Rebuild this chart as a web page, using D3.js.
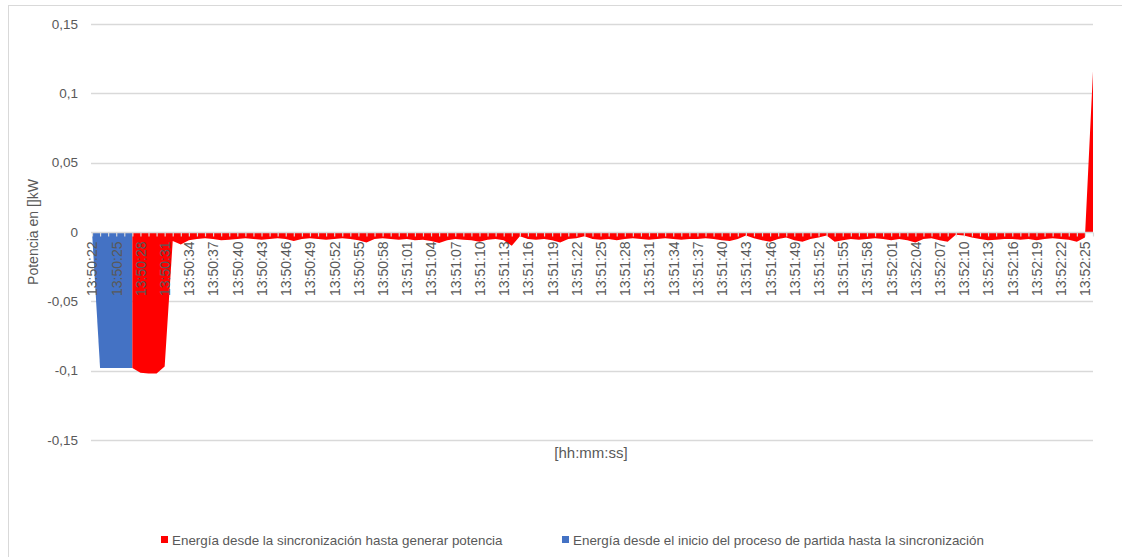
<!DOCTYPE html>
<html>
<head>
<meta charset="utf-8">
<script src="https://cdn.jsdelivr.net/npm/d3@7"></script>
<style>
  html, body { margin: 0; padding: 0; background: #fff; }
  svg { display: block; font-family: "Liberation Sans", Arial, sans-serif; }
</style>
</head>
<body>
<svg id="chart" width="1122" height="557"></svg>
<script>
// ---- data ----
const startTime = "13:50:22";
const nPoints = 125; // 13:50:22 ... 13:52:26, one per second
const categories = (function () {
  const out = [];
  const [h, m, s] = startTime.split(":").map(Number);
  const base = h * 3600 + m * 60 + s;
  for (let i = 0; i < nPoints; i++) {
    const t = base + i;
    const hh = String(Math.floor(t / 3600)).padStart(2, "0");
    const mm = String(Math.floor((t % 3600) / 60)).padStart(2, "0");
    const ss = String(t % 60).padStart(2, "0");
    out.push(hh + ":" + mm + ":" + ss);
  }
  return out;
})();

// Blue series: from start of process until synchronization (13:50:22 - 13:50:27)
const blueValues = [0, -0.098, -0.098, -0.098, -0.098, -0.098];

// Red series: from synchronization until generating power (13:50:27 - 13:52:26)
const redValues = [
  -0.098, -0.1015, -0.102, -0.102, -0.097,
  -0.0065, -0.009, -0.006, -0.005, -0.0045, -0.005, -0.006, -0.0055, -0.005, -0.0045,
  -0.005, -0.0055, -0.005, -0.0045, -0.005, -0.0065, -0.005, -0.0045, -0.005, -0.0055,
  -0.005, -0.0045, -0.005, -0.006, -0.0075, -0.005, -0.0045, -0.005, -0.0055, -0.005,
  -0.006, -0.0055, -0.0065, -0.008, -0.006, -0.005, -0.0055, -0.006, -0.007, -0.0055,
  -0.005, -0.006, -0.01, -0.003, -0.005, -0.0055, -0.005, -0.006, -0.0075, -0.005,
  -0.0045, -0.003, -0.005, -0.0055, -0.005, -0.006, -0.005, -0.0045, -0.005, -0.0055,
  -0.005, -0.0045, -0.005, -0.0055, -0.005, -0.005, -0.0045, -0.005, -0.006, -0.0065,
  -0.005, -0.0025, -0.0045, -0.006, -0.007, -0.005, -0.004, -0.006, -0.007, -0.005,
  -0.004, -0.0025, -0.007, -0.006, -0.005, -0.0055, -0.005, -0.0045, -0.005, -0.006,
  -0.005, -0.006, -0.0075, -0.005, -0.0045, -0.006, -0.007, -0.002, -0.0025, -0.004,
  -0.005, -0.006, -0.0055, -0.005, -0.005, -0.0055, -0.005, -0.006, -0.005, -0.0045,
  -0.005, -0.0055, -0.007, -0.004,
  0.116
];
const blueStart = 0;   // index of 13:50:22
const redStart = 5;    // index of 13:50:27

const yTicks = [-0.15, -0.1, -0.05, 0, 0.05, 0.1, 0.15];
const xLabelEvery = 3;

const seriesNames = [
  "Energía desde la sincronización hasta generar potencia",
  "Energía desde el inicio del proceso de partida hasta la sincronización"
];

// ---- layout ----
const svg = d3.select("#chart");
const plot = { left: 91, right: 1093, top: 24, bottom: 440 };
const gridColor = "#d9d9d9";
const textColor = "#595959";
const red = "#ff0000";
const blue = "#4472c4";

// chart border (only top/left visible in the reference)
svg.append("rect")
  .attr("x", 8.5).attr("y", 5.5)
  .attr("width", 1130).attr("height", 570)
  .attr("fill", "none").attr("stroke", "#d9d9d9").attr("stroke-width", 1);

const x = d3.scalePoint().domain(categories).range([plot.left + 1, plot.right]);
const y = d3.scaleLinear().domain([-0.15, 0.15]).range([plot.bottom, plot.top]);

// value axis labels (Spanish decimal comma, ASCII hyphen minus)
const fmtY = d => String(+d.toFixed(2)).replace(".", ",");
const yAxis = d3.axisLeft(y).tickValues(yTicks).tickSize(0).tickPadding(13).tickFormat(fmtY);
const gy = svg.append("g").attr("transform", `translate(${plot.left},0)`).call(yAxis);
gy.select(".domain").remove();
gy.selectAll("text").attr("fill", textColor).style("font-size", "13.5px");

// gridlines
svg.append("g").selectAll("line").data(yTicks.filter(d => d !== 0)).join("line")
  .attr("x1", plot.left).attr("x2", plot.right)
  .attr("y1", d => Math.round(y(d)) + 0.5).attr("y2", d => Math.round(y(d)) + 0.5)
  .attr("stroke", gridColor).attr("stroke-width", 1.3);

// areas
const blueData = blueValues.map((v, i) => ({ c: categories[blueStart + i], v }));
const redData = redValues.map((v, i) => ({ c: categories[redStart + i], v }));

const area = d3.area()
  .x(d => x(d.c))
  .y0(y(0))
  .y1(d => y(d.v));

svg.append("path").datum(blueData).attr("d", area).attr("fill", blue);
svg.append("path").datum(redData).attr("d", area).attr("fill", red);

// category axis at zero
const xAxis = d3.axisBottom(x).tickSize(4).tickSizeOuter(0)
  .tickFormat((d, i) => i % xLabelEvery === 0 && i < categories.length - 1 ? d : "");
const gx = svg.append("g").attr("transform", `translate(0,${Math.round(y(0)) + 0.5})`).call(xAxis);
gx.select(".domain").attr("stroke", gridColor).attr("stroke-width", 1.3)
  .attr("d", `M${plot.left},0H${plot.right}`);
gx.selectAll(".tick line").attr("stroke", gridColor).attr("stroke-width", 1.2);
gx.selectAll(".tick text")
  .attr("fill", textColor)
  .style("font-size", "14px")
  .attr("text-anchor", "end")
  .attr("transform", "rotate(-90)")
  .attr("x", -9)
  .attr("y", 0)
  .attr("dy", "0.35em");

// axis titles
svg.append("text")
  .attr("transform", `translate(38,${232}) rotate(-90)`)
  .attr("text-anchor", "middle")
  .attr("fill", textColor)
  .style("font-size", "14px")
  .text("Potencia en []kW");

svg.append("text")
  .attr("x", 591).attr("y", 458)
  .attr("text-anchor", "middle")
  .attr("fill", textColor)
  .style("font-size", "15px")
  .text("[hh:mm:ss]");

// legend
const legendItems = [
  { name: seriesNames[0], color: red, x: 161 },
  { name: seriesNames[1], color: blue, x: 562 }
];
const lg = svg.append("g").selectAll("g").data(legendItems).join("g")
  .attr("transform", d => `translate(${d.x},536)`);
lg.append("rect").attr("width", 7).attr("height", 7).attr("fill", d => d.color);
lg.append("text").attr("x", 11).attr("y", 9)
  .attr("fill", textColor).style("font-size", "13.4px")
  .text(d => d.name);
</script>
</body>
</html>
